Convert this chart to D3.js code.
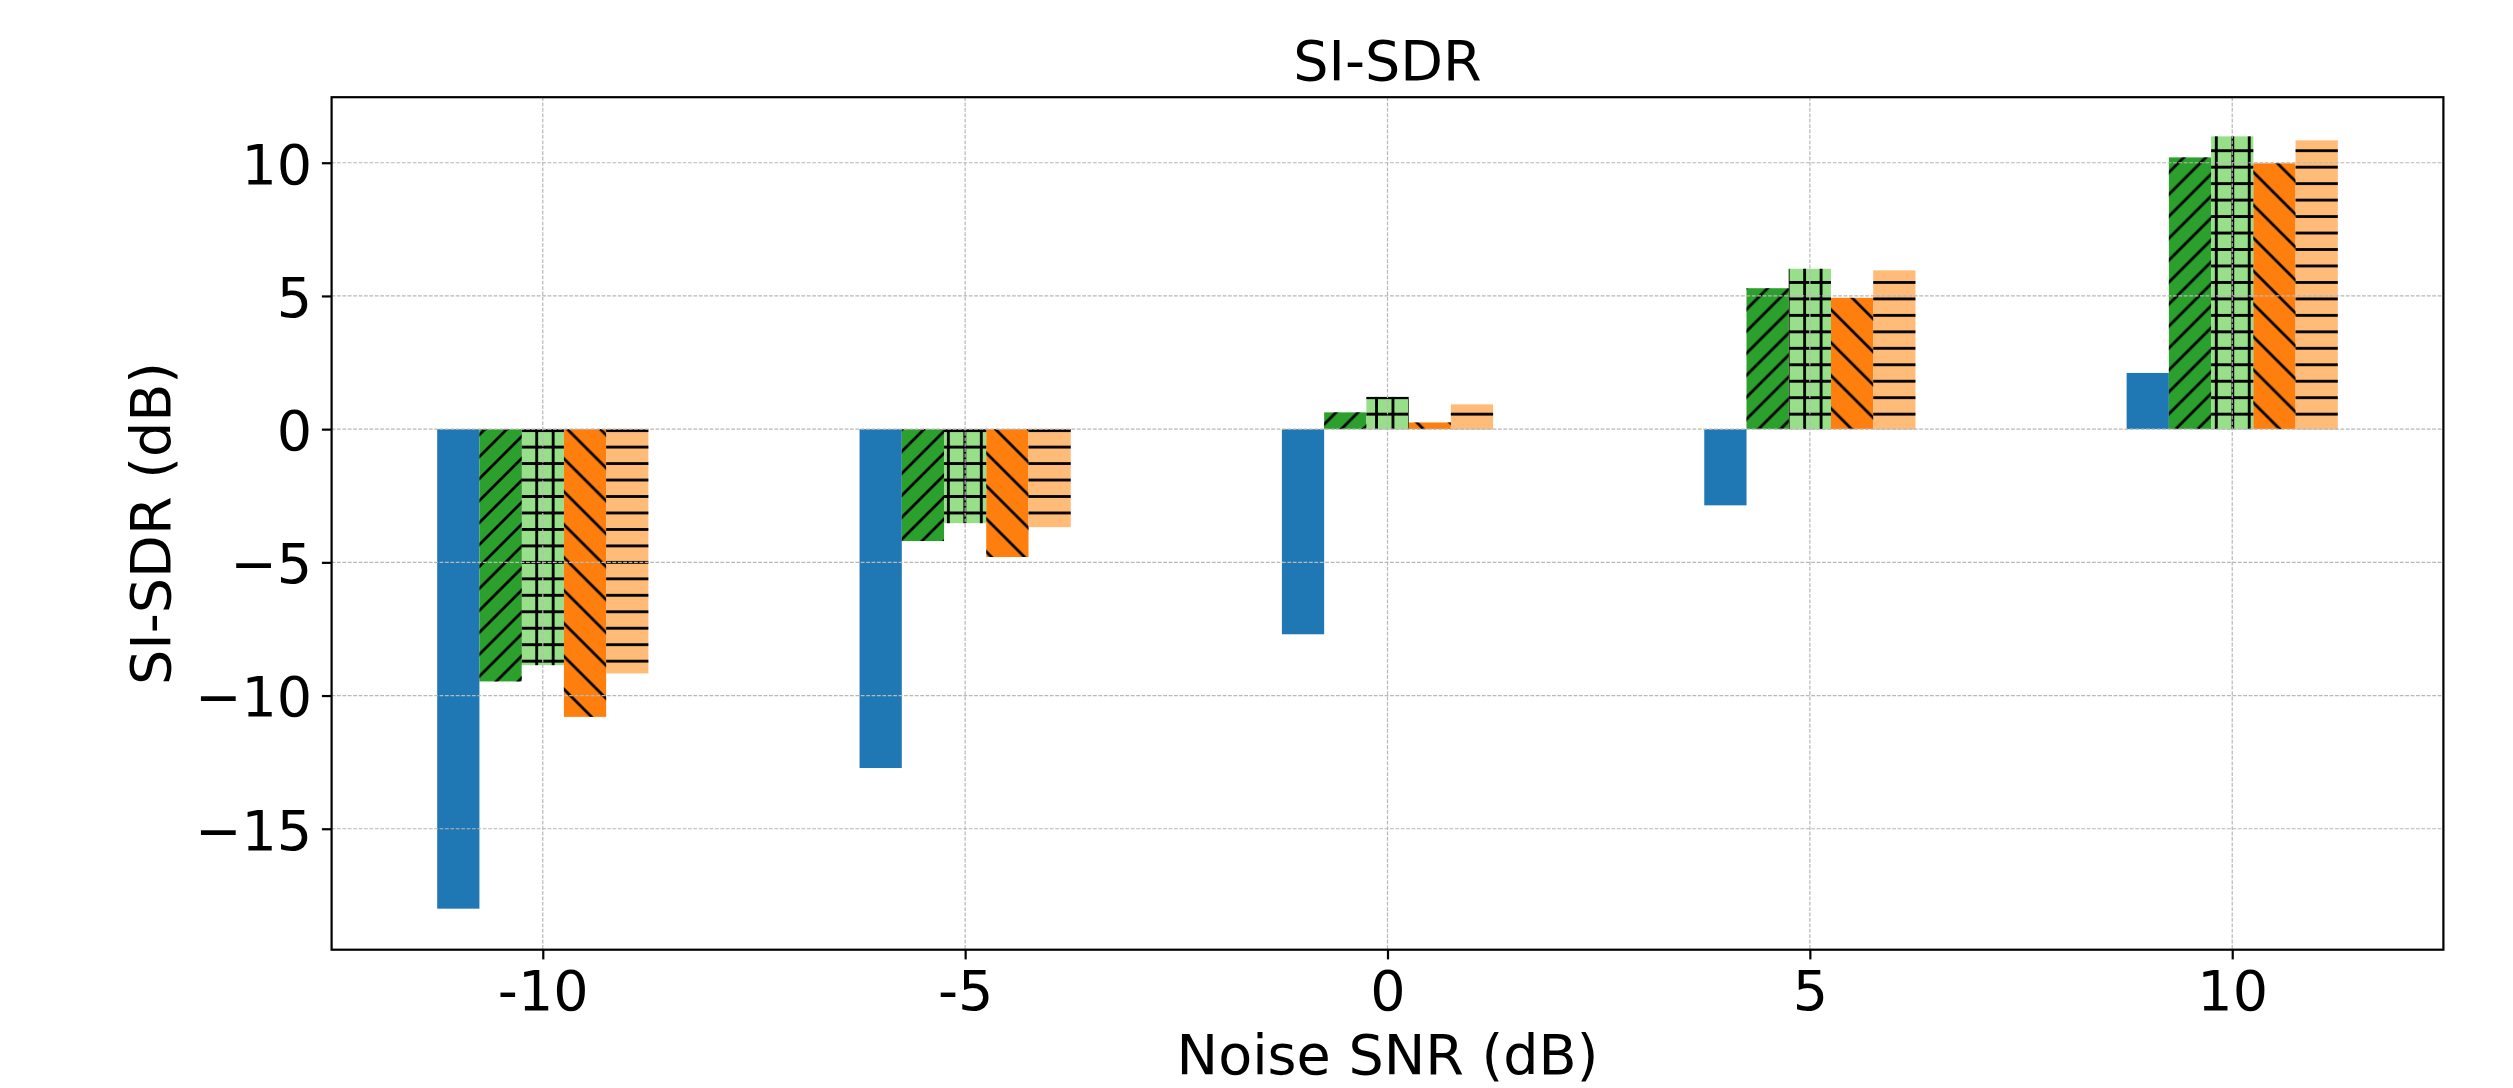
<!DOCTYPE html>
<html>
<head>
<meta charset="utf-8">
<script src="https://cdn.jsdelivr.net/npm/d3@7"></script>
<style>
  html, body { margin: 0; padding: 0; background: #ffffff; }
  svg { display: block; }
  text { font-family: "DejaVu Sans", sans-serif; fill: #000; }
</style>
</head>
<body>
<svg id="chart" width="2513" height="1088"></svg>
<script>
// ---- data ----
const snrLevels = [-10, -5, 0, 5, 10];
const xTickLabels = ["-10", "-5", "0", "5", "10"];
const yTickValues = [-15, -10, -5, 0, 5, 10];
const yTickLabels = ["\u221215", "\u221210", "\u22125", "0", "5", "10"];

const seriesNames = ["Series 1", "Series 2", "Series 3", "Series 4", "Series 5"];
const series1 = [-18.0, -12.72, -7.70, -2.86, 2.11];
const series2 = [-9.47, -4.20, 0.63, 5.29, 10.20];
const series3 = [-8.86, -3.53, 1.21, 6.02, 10.99];
const series4 = [-10.80, -4.80, 0.25, 4.93, 9.98];
const series5 = [-9.17, -3.68, 0.93, 5.96, 10.84];
const barOffsets = [-1.0, -0.5, 0.0, 0.5, 1.0];
const barWidth = 0.5;

const titleText = "SI-SDR";
const xLabelText = "Noise SNR (dB)";
const yLabelText = "SI-SDR (dB)";

// ---- styles ----
const colors = ["#1f77b4", "#2ca02c", "#98df8a", "#ff7f0e", "#ffbb78"];
const hatches = [null, "ne", "plus", "nw", "horiz"];
const fontSize = 55.6;

const allSeries = [series1, series2, series3, series4, series5];

const svg = d3.select("#chart");
svg.append("rect").attr("width", 2513).attr("height", 1088).attr("fill", "#fff");

const plot = { left: 331.6, right: 2443.4, top: 97.2, bottom: 949.7 };

const x = d3.scaleLinear().domain([-12.5, 12.5]).range([plot.left, plot.right]);
const y = d3.scaleLinear().domain([-19.54, 12.46]).range([plot.bottom, plot.top]);

// ---- hatch patterns ----
const defs = svg.append("defs");
const inch = 197.6;   // hatch unit cell
const hs = inch / 12; // spacing of '-' and '+' lines
const lw = 2.8;       // hatch line width

function pat(id, w, h, px, py) {
  return defs.append("pattern").attr("id", id)
    .attr("patternUnits", "userSpaceOnUse")
    .attr("width", w).attr("height", h).attr("x", px).attr("y", py);
}
// NE diagonal "/" lines
{
  const s = inch / 9;
  pat("hatch-ne", s, s, 14, 0).append("path")
    .attr("d", `M${-s/2},${s/2} L${s/2},${-s/2} M0,${s} L${s},0 M${s/2},${1.5*s} L${1.5*s},${s/2}`)
    .attr("stroke", "#000").attr("stroke-width", lw).attr("fill", "none");
}
// NW diagonal "\" lines
{
  const s = inch / 6;
  pat("hatch-nw", s, s, 0, 26.5).append("path")
    .attr("d", `M0,0 L${s},${s} M${-s/2},${s/2} L${s/2},${1.5*s} M${s/2},${-s/2} L${1.5*s},${s/2}`)
    .attr("stroke", "#000").attr("stroke-width", lw).attr("fill", "none");
}
// horizontal lines
{
  const s = hs;
  pat("hatch-horiz", s, s, 0, 150.7 - s/2).append("path")
    .attr("d", `M0,${s/2} L${s},${s/2}`)
    .attr("stroke", "#000").attr("stroke-width", lw).attr("fill", "none");
}
// plus (horizontal + vertical)
{
  const s = hs;
  pat("hatch-plus", s, s, 536.7 - s/2, 150.7 - s/2).append("path")
    .attr("d", `M0,${s/2} L${s},${s/2} M${s/2},0 L${s/2},${s}`)
    .attr("stroke", "#000").attr("stroke-width", lw).attr("fill", "none");
}

// ---- bars ----
const barData = [];
allSeries.forEach((vals, si) => {
  vals.forEach((v, i) => {
    barData.push({ series: seriesNames[si], si, snr: snrLevels[i], value: v });
  });
});

const barG = svg.append("g");
function barX(d) { return x(d.snr + barOffsets[d.si] - barWidth / 2); }
function barW(d) { return x(d.snr + barOffsets[d.si] + barWidth / 2) - x(d.snr + barOffsets[d.si] - barWidth / 2); }
function barY(d) { return y(Math.max(0, d.value)); }
function barH(d) { return Math.abs(y(d.value) - y(0)); }

barG.selectAll("rect.fill").data(barData).join("rect")
  .attr("class", "fill")
  .attr("x", barX).attr("width", barW)
  .attr("y", barY).attr("height", barH)
  .attr("fill", d => colors[d.si]);

barG.selectAll("rect.hatch").data(barData.filter(d => hatches[d.si])).join("rect")
  .attr("class", "hatch")
  .attr("x", barX).attr("width", barW)
  .attr("y", barY).attr("height", barH)
  .attr("fill", d => `url(#hatch-${hatches[d.si]})`);

// ---- grid (drawn above bars) ----
const gridG = svg.append("g").attr("stroke", "#b8b8b8").attr("stroke-width", 1.2)
  .attr("stroke-dasharray", "3.8,1.6");
gridG.selectAll("line.gx").data(snrLevels).join("line")
  .attr("x1", d => x(d)).attr("x2", d => x(d))
  .attr("y1", plot.top).attr("y2", plot.bottom);
gridG.selectAll("line.gy").data(yTickValues).join("line")
  .attr("x1", plot.left).attr("x2", plot.right)
  .attr("y1", d => y(d)).attr("y2", d => y(d));

// ---- axes ----
const xAxis = d3.axisBottom(x).tickValues(snrLevels)
  .tickFormat((d, i) => xTickLabels[i]).tickSize(9.7).tickSizeOuter(0).tickPadding(11);
const yAxis = d3.axisLeft(y).tickValues(yTickValues)
  .tickFormat((d, i) => yTickLabels[i]).tickSize(9.7).tickSizeOuter(0).tickPadding(9.7);

const gx = svg.append("g").attr("transform", `translate(0,${plot.bottom})`).call(xAxis);
const gy = svg.append("g").attr("transform", `translate(${plot.left},0)`).call(yAxis);
[gx, gy].forEach(g => {
  g.select(".domain").remove();
  g.selectAll(".tick line").attr("stroke", "#000").attr("stroke-width", 2.2);
  g.selectAll(".tick text").attr("font-family", "DejaVu Sans").attr("font-size", fontSize).attr("fill", "#000");
});
gy.selectAll(".tick text").attr("dy", "0.365em");

// spines
svg.append("rect")
  .attr("x", plot.left).attr("y", plot.top)
  .attr("width", plot.right - plot.left).attr("height", plot.bottom - plot.top)
  .attr("fill", "none").attr("stroke", "#000").attr("stroke-width", 2.2);

// ---- labels ----
const cx = (plot.left + plot.right) / 2;
svg.append("text").attr("x", cx).attr("y", 80)
  .attr("text-anchor", "middle").attr("font-size", fontSize).text(titleText);
svg.append("text").attr("x", cx).attr("y", 1074)
  .attr("text-anchor", "middle").attr("font-size", fontSize).text(xLabelText);
svg.append("text")
  .attr("transform", `translate(170,${(plot.top + plot.bottom) / 2}) rotate(-90)`)
  .attr("text-anchor", "middle").attr("font-size", fontSize).text(yLabelText);
</script>
</body>
</html>
